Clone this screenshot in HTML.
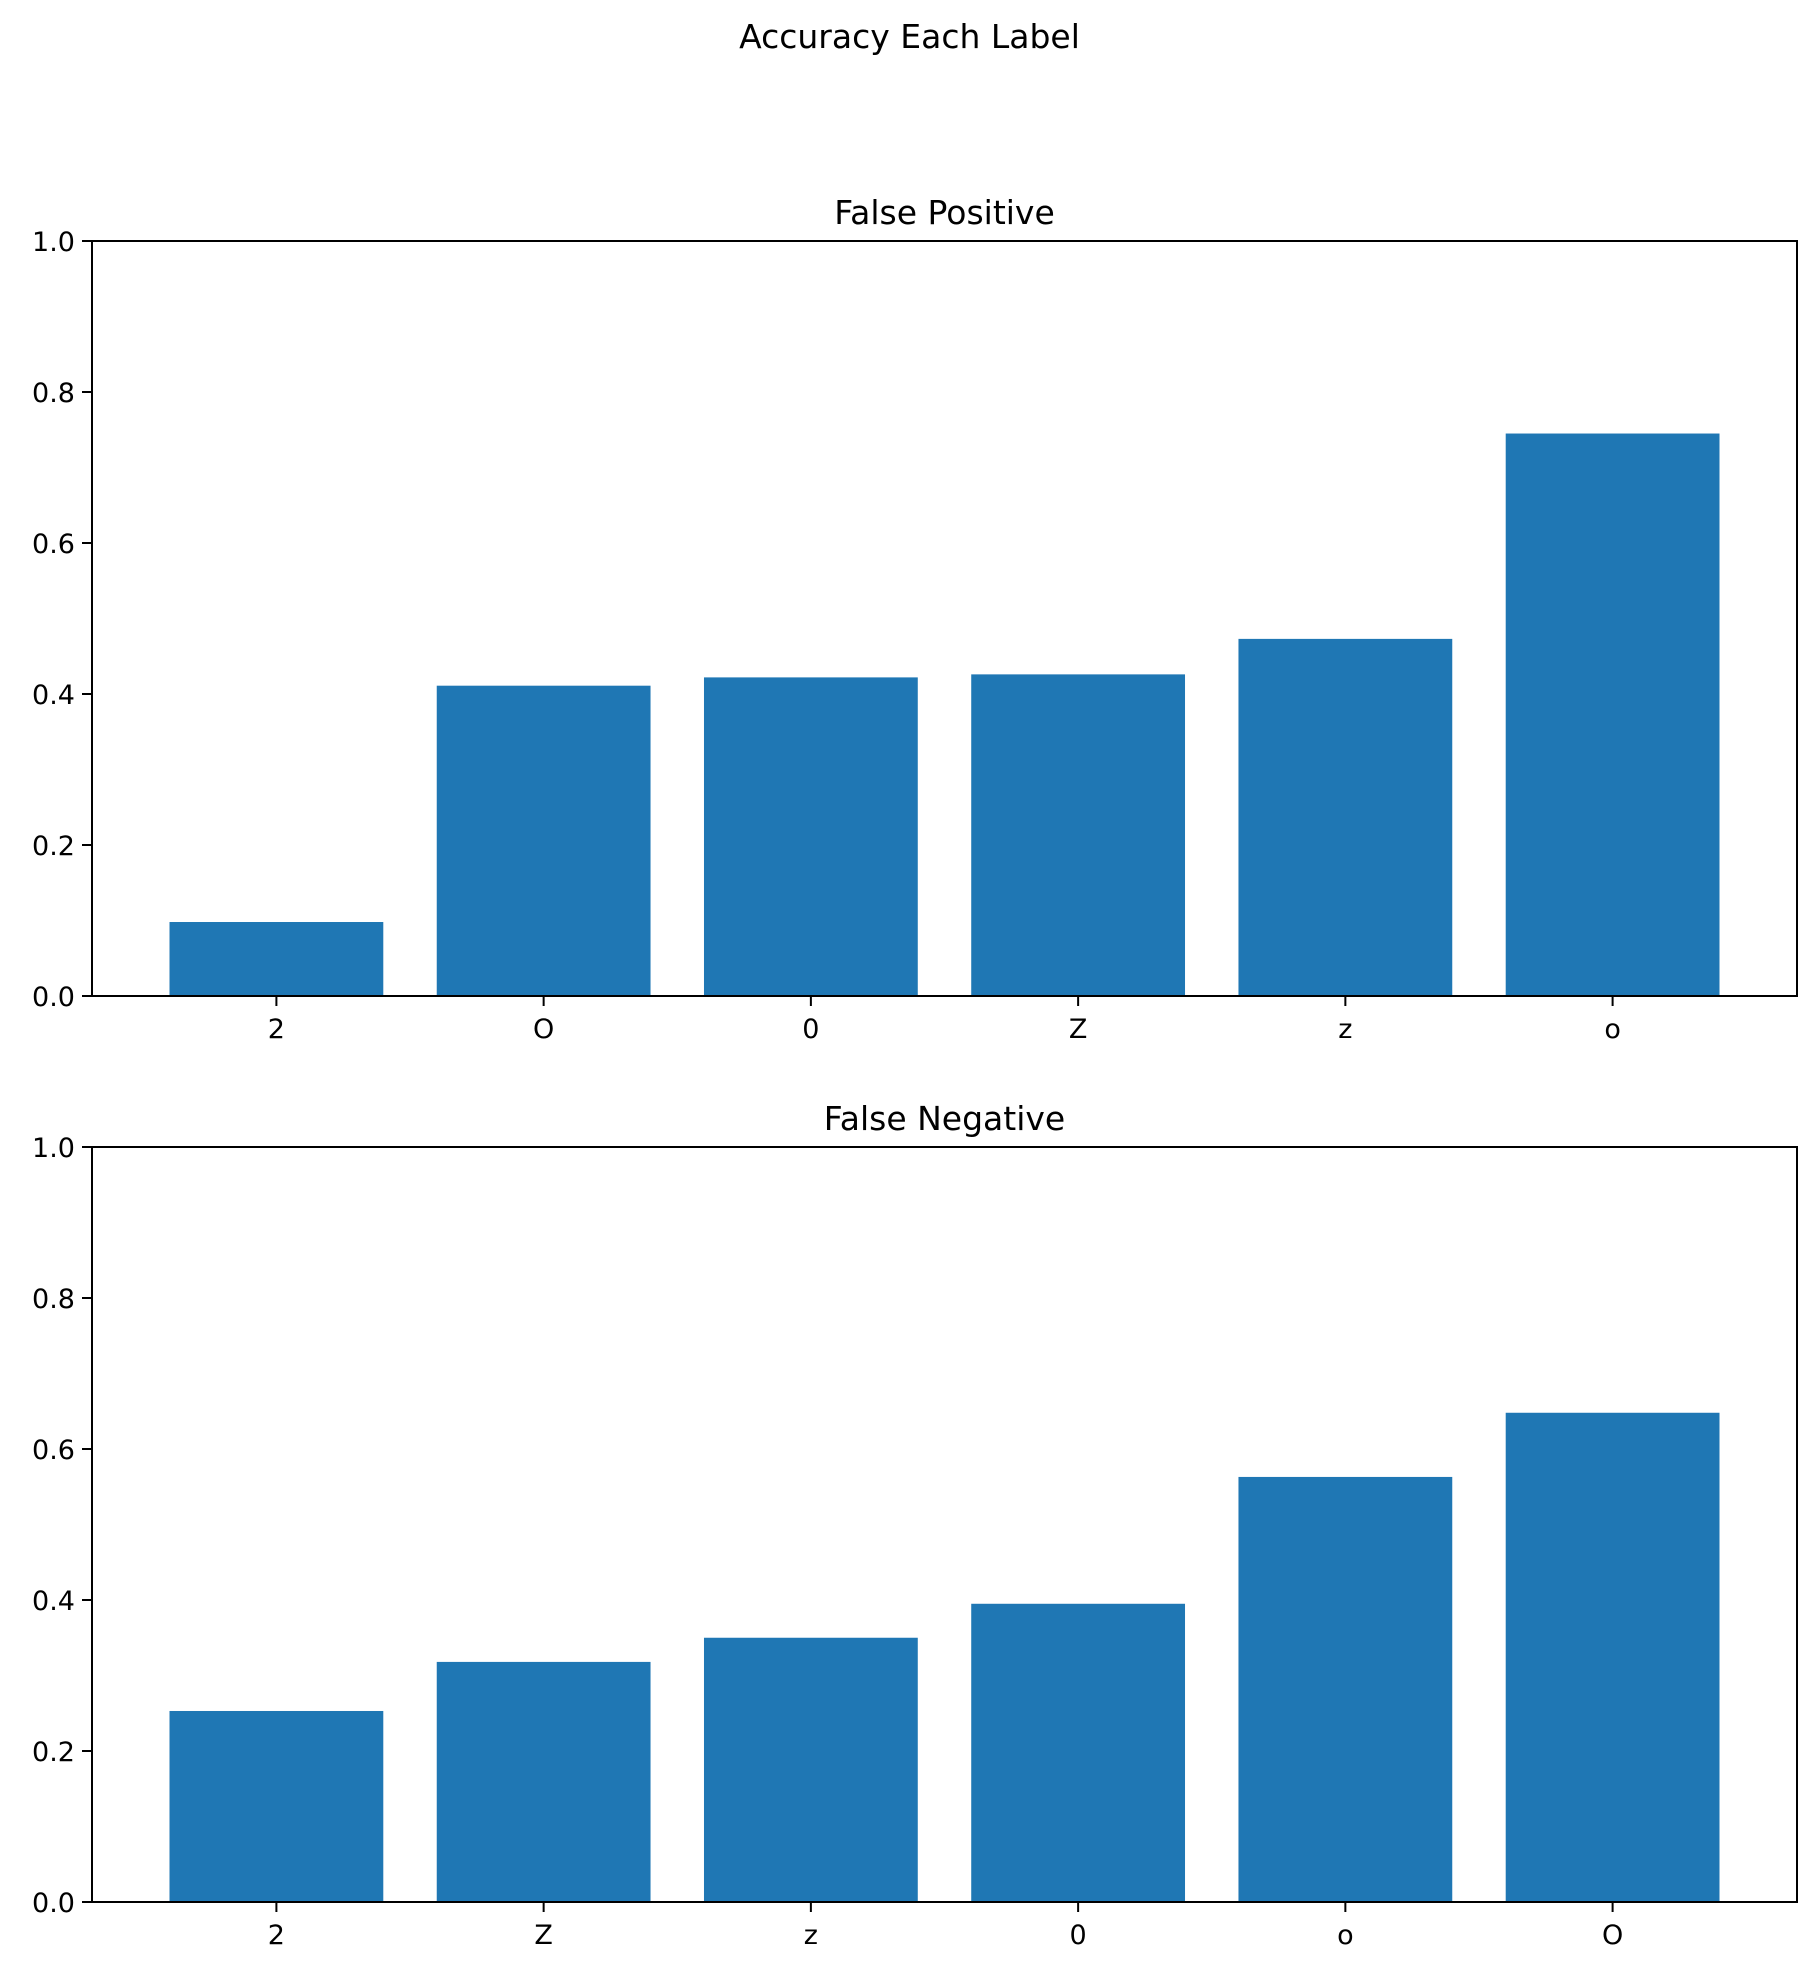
<!DOCTYPE html>
<html><head><meta charset="utf-8"><style>
body{margin:0;background:#fff}
svg{display:block;font-family:"DejaVu Sans","Liberation Sans",sans-serif}
</style></head><body>
<svg id="chart" width="1819" height="1975" viewBox="0 0 1819 1975" xmlns="http://www.w3.org/2000/svg">
<rect width="1819" height="1975" fill="#fff"/>
<text x="909.5" y="48" font-size="33" text-anchor="middle">Accuracy Each Label</text>
</svg>
<script>
const fpCategories = ["2","O","0","Z","z","o"];
const fpValues = [0.098, 0.411, 0.422, 0.426, 0.473, 0.745];
const fnCategories = ["2","Z","z","0","o","O"];
const fnValues = [0.253, 0.318, 0.350, 0.395, 0.563, 0.648];
const yTicks = [0.0, 0.2, 0.4, 0.6, 0.8, 1.0];
const yTickLabels = ["0.0","0.2","0.4","0.6","0.8","1.0"];

const svg = document.getElementById('chart');
const NS = 'http://www.w3.org/2000/svg';
function mk(tag, attrs){const e=document.createElementNS(NS,tag);for(const k in attrs)e.setAttribute(k,attrs[k]);return e;}

function drawPanel(name, title, cats, vals, top, bottom){
  const left=92, right=1797;
  const g=mk('g',{});
  
  
  svg.appendChild(g);
  const n=cats.length;
  const xmin=-0.4-0.05*(n-1+0.8), xmax=n-1+0.4+0.05*(n-1+0.8);
  const xs=v=>left+(v-xmin)/(xmax-xmin)*(right-left);
  const ys=v=>bottom-v*(bottom-top);
  vals.forEach((v,i)=>{
    const r=mk('rect',{x:xs(i-0.4),y:ys(v),width:xs(i+0.4)-xs(i-0.4),height:ys(0)-ys(v),fill:'#1f77b4'});
    
    
    g.appendChild(r);
    const t=mk('line',{x1:xs(i),x2:xs(i),y1:bottom,y2:bottom+10,stroke:'#000','stroke-width':2});
    
    
    g.appendChild(t);
    const l=mk('text',{x:xs(i),y:bottom+42,'font-size':27,'text-anchor':'middle'});
    
    
    l.textContent=cats[i];
    g.appendChild(l);
  });
  yTicks.forEach((v,i)=>{
    const t=mk('line',{x1:left-10,x2:left,y1:ys(v),y2:ys(v),stroke:'#000','stroke-width':2});
    
    
    g.appendChild(t);
    const l=mk('text',{x:left-17,y:ys(v)+10,'font-size':27,'text-anchor':'end'});
    
    
    l.textContent=yTickLabels[i];
    g.appendChild(l);
  });
  const f=mk('rect',{x:left,y:top,width:right-left,height:bottom-top,fill:'none',stroke:'#000','stroke-width':2});
  
  
  g.appendChild(f);
  const tt=mk('text',{x:(left+right)/2,y:top-17,'font-size':33,'text-anchor':'middle'});
  
  
  tt.textContent=title;
  g.appendChild(tt);
}
drawPanel('false-positive','False Positive',fpCategories,fpValues,241,996);
drawPanel('false-negative','False Negative',fnCategories,fnValues,1147,1902);
</script>
</body></html>
